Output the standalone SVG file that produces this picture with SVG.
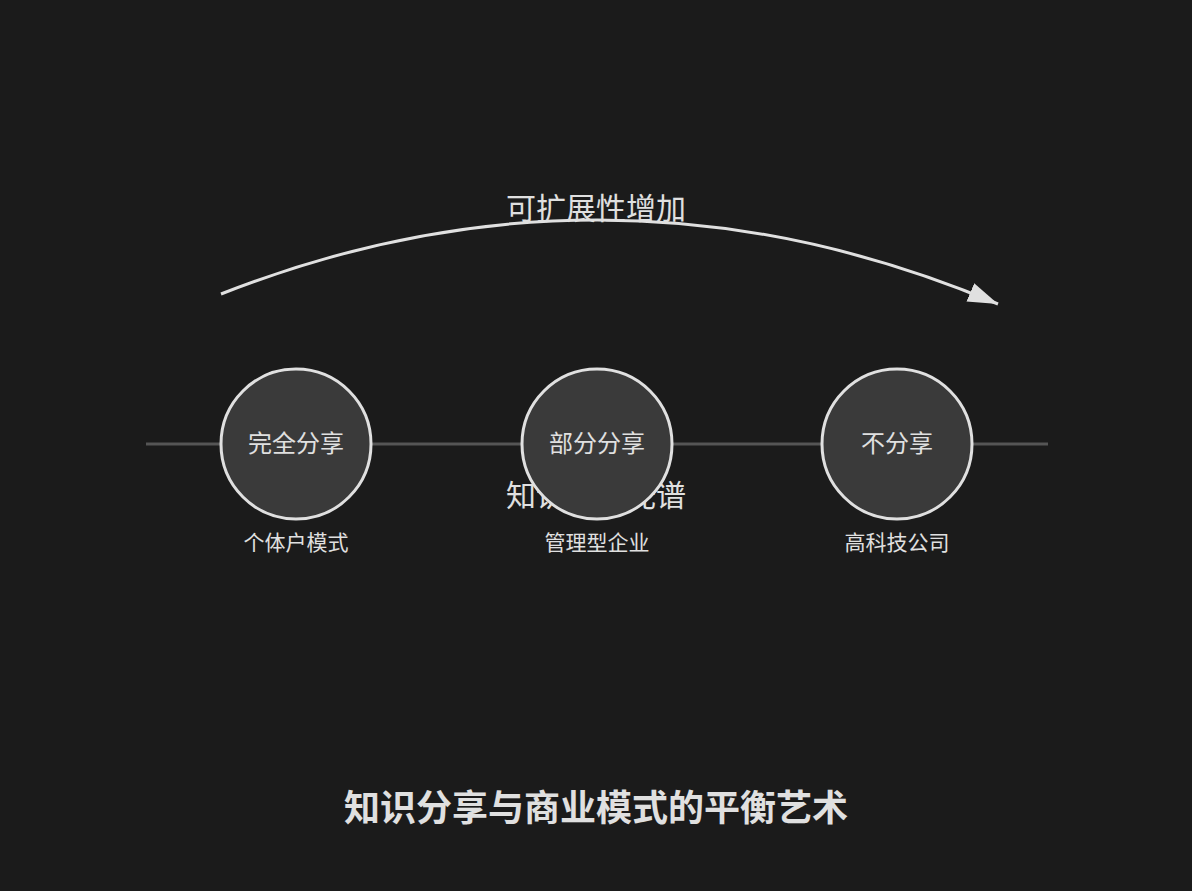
<svg xmlns="http://www.w3.org/2000/svg" width="1192" height="891" viewBox="0 0 1192 891">
<defs>
<style>
.t{font-family:"Liberation Sans","Noto Sans CJK SC",sans-serif;fill:#e0e0e0;text-anchor:middle}
.c{fill:#3a3a3a;stroke:#e0e0e0;stroke-width:3}
</style>
<marker id="ah" markerWidth="30" markerHeight="20" refX="30" refY="10" orient="auto" markerUnits="userSpaceOnUse">
<path d="M0,0 L30,10 L0,20 Z" fill="#e0e0e0"/>
</marker>
</defs>
<rect width="1192" height="891" fill="#1b1b1b"/>
<g id="connectors">
<line x1="146" y1="444" x2="1048" y2="444" stroke="#555" stroke-width="3"/>
<path d="M221,294 Q610,141 998,304" fill="none" stroke="#e0e0e0" stroke-width="3" marker-end="url(#ah)"/>
</g>
<text class="t" x="596" y="219" font-size="30">可扩展性增加</text>
<text class="t" x="596" y="506" font-size="30">知识分享光谱</text>
<g id="n1">
<circle class="c" cx="296" cy="444" r="75"/>
<text class="t" x="296" y="452" font-size="24">完全分享</text>
<text class="t" x="296" y="550" font-size="21">个体户模式</text>
</g>
<g id="n2">
<circle class="c" cx="597" cy="444" r="75"/>
<text class="t" x="597" y="452" font-size="24">部分分享</text>
<text class="t" x="597" y="550" font-size="21">管理型企业</text>
</g>
<g id="n3">
<circle class="c" cx="897" cy="444" r="75"/>
<text class="t" x="897" y="452" font-size="24">不分享</text>
<text class="t" x="897" y="550" font-size="21">高科技公司</text>
</g>
<text class="t" x="596" y="821" font-size="36" font-weight="bold">知识分享与商业模式的平衡艺术</text>
</svg>
